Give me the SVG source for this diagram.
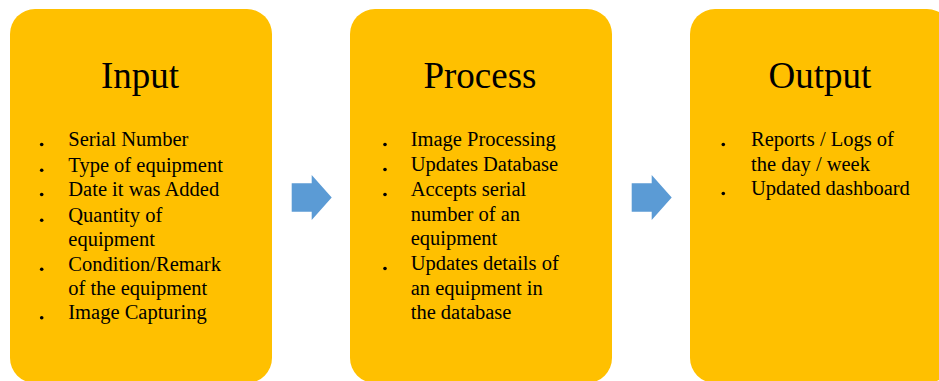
<svg xmlns="http://www.w3.org/2000/svg" width="939" height="381" viewBox="0 0 939 381">
<style>
.box{fill:#FFC000}
.title{font-family:"Liberation Serif","Times New Roman",serif;font-size:37px;fill:#000;text-anchor:middle}
.item{font-family:"Liberation Serif","Times New Roman",serif;font-size:20.5px;fill:#000}
.bul{fill:#000}
.arrow{fill:#5B9BD5}
</style>
<rect width="939" height="381" fill="#FFFFFF"/>
<g id="input">
<rect class="box" x="10" y="9" width="262" height="374" rx="25" ry="25"/>
<text class="title" x="140" y="87.5">Input</text>
<circle class="bul" cx="41.7" cy="144.5" r="1.8"/>
<circle class="bul" cx="41.7" cy="170.2" r="1.8"/>
<circle class="bul" cx="41.7" cy="194.5" r="1.8"/>
<circle class="bul" cx="41.7" cy="220.2" r="1.8"/>
<circle class="bul" cx="41.7" cy="269.2" r="1.8"/>
<circle class="bul" cx="41.7" cy="317.8" r="1.8"/>
<text class="item" x="68.3" y="146">Serial Number</text>
<text class="item" x="68.3" y="171.7">Type of equipment</text>
<text class="item" x="68.3" y="196">Date it was Added</text>
<text class="item" x="68.3" y="221.7">Quantity of</text>
<text class="item" x="68.3" y="246">equipment</text>
<text class="item" x="68.3" y="270.7">Condition/Remark</text>
<text class="item" x="68.3" y="295">of the equipment</text>
<text class="item" x="68.3" y="319.3">Image Capturing</text>
</g>
<g id="process">
<rect class="box" x="350" y="9" width="262" height="374" rx="25" ry="25"/>
<text class="title" x="480" y="87.5">Process</text>
<circle class="bul" cx="385" cy="144.5" r="1.8"/>
<circle class="bul" cx="385" cy="169.5" r="1.8"/>
<circle class="bul" cx="385" cy="194.5" r="1.8"/>
<circle class="bul" cx="385" cy="268.5" r="1.8"/>
<text class="item" x="410.7" y="146">Image Processing</text>
<text class="item" x="410.7" y="171">Updates Database</text>
<text class="item" x="410.7" y="196">Accepts serial</text>
<text class="item" x="410.7" y="220.7">number of an</text>
<text class="item" x="410.7" y="245">equipment</text>
<text class="item" x="410.7" y="270">Updates details of</text>
<text class="item" x="410.7" y="295">an equipment in</text>
<text class="item" x="410.7" y="319">the database</text>
</g>
<g id="output">
<rect class="box" x="690" y="9" width="262" height="374" rx="25" ry="25"/>
<text class="title" x="820" y="87.5">Output</text>
<circle class="bul" cx="723.3" cy="144.5" r="1.8"/>
<circle class="bul" cx="723.3" cy="193.5" r="1.8"/>
<text class="item" x="751" y="146">Reports / Logs of</text>
<text class="item" x="751" y="170.5">the day / week</text>
<text class="item" x="751" y="195">Updated dashboard</text>
</g>
<g id="connectors">
<polygon class="arrow" points="291.7,183.3 311.7,183.3 311.7,175 331.7,197.5 311.7,220 311.7,211.7 291.7,211.7"/>
<polygon class="arrow" points="631.7,183.3 651.7,183.3 651.7,175 671.7,197.5 651.7,220 651.7,211.7 631.7,211.7"/>
</g>
</svg>
